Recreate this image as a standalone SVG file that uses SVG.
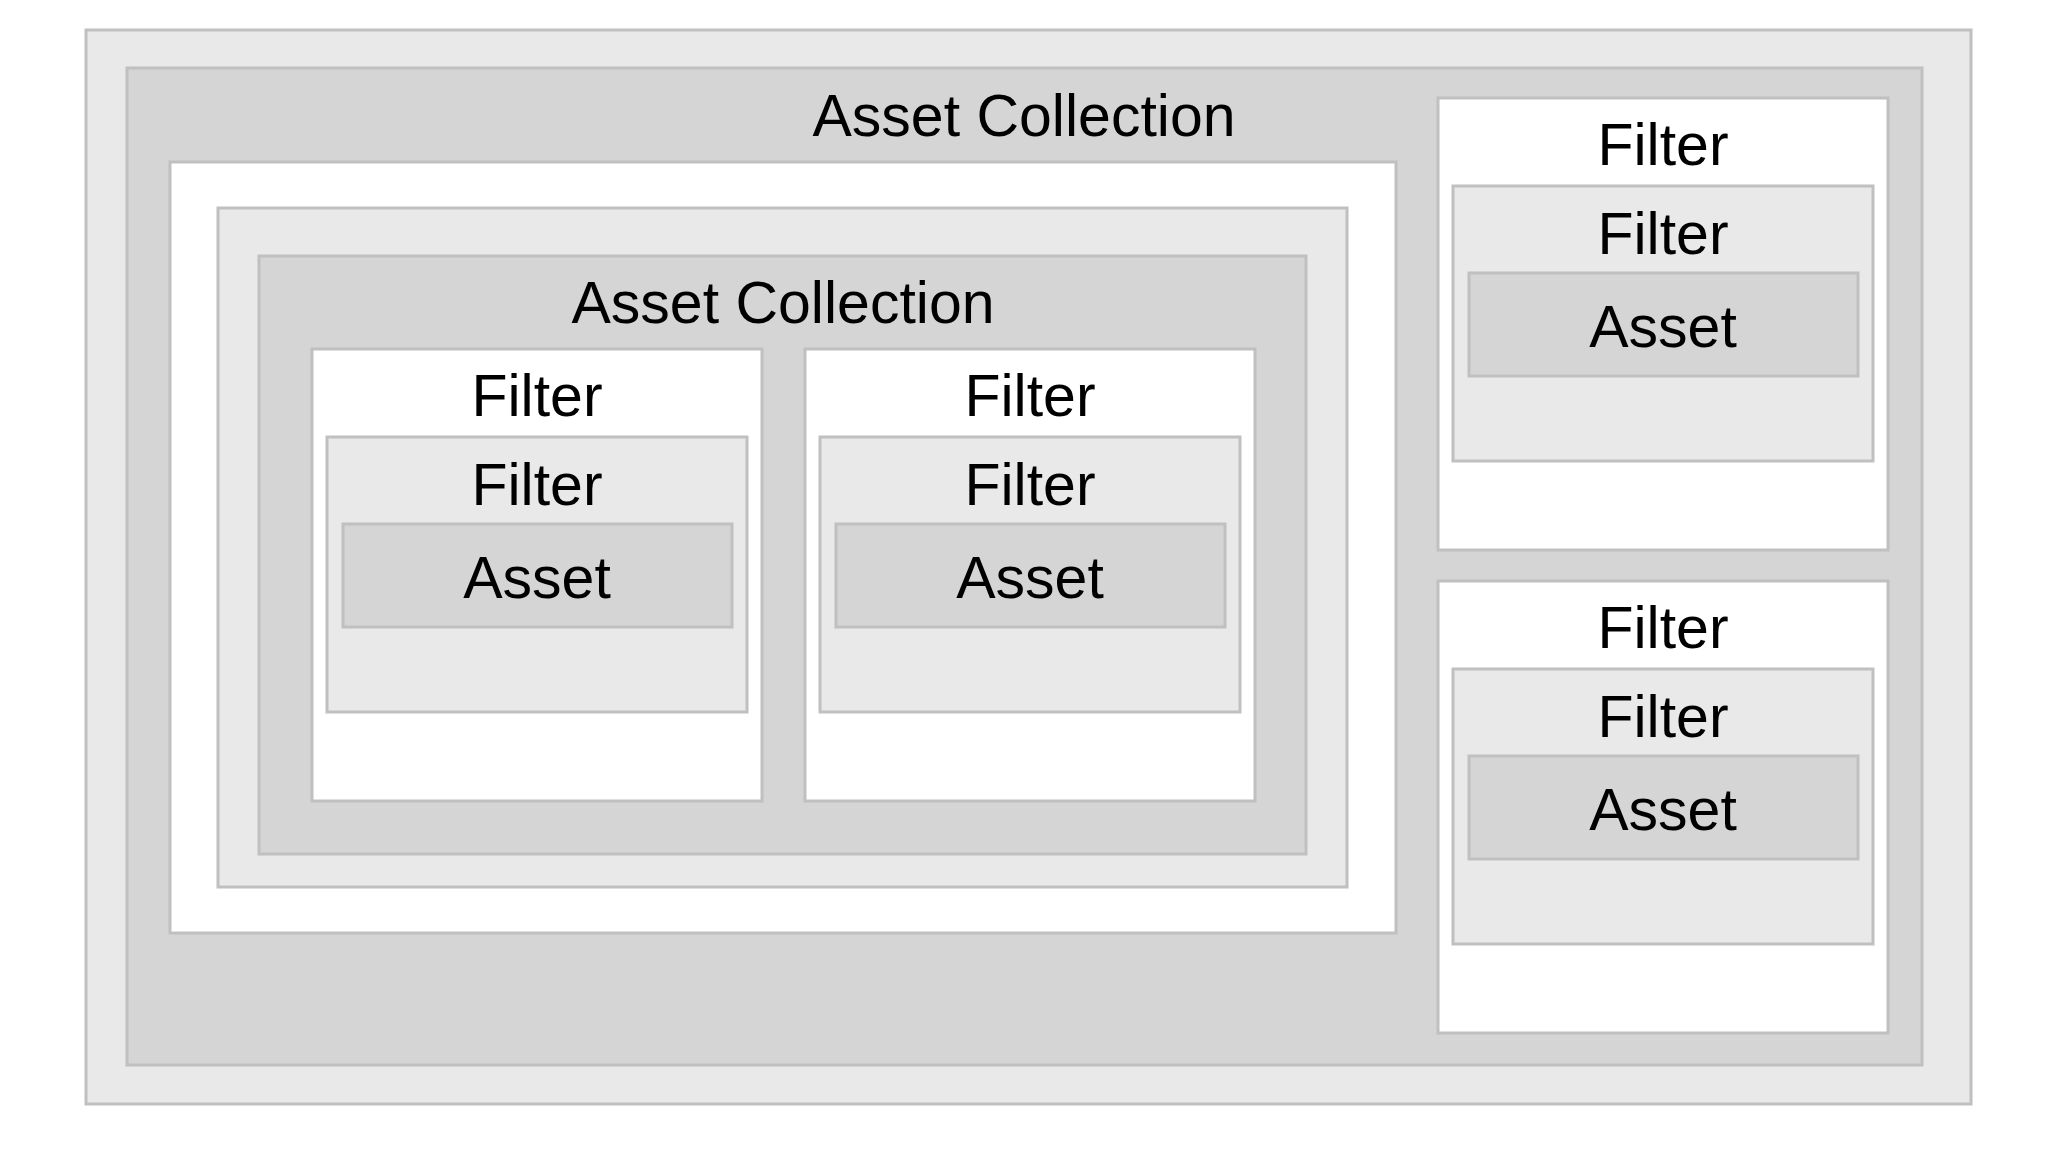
<svg xmlns="http://www.w3.org/2000/svg" width="2048" height="1152" viewBox="0 0 2048 1152">
<style>
.box{stroke:#c0c0c0;stroke-width:3}
.l{fill:#e9e9e9}
.d{fill:#d5d5d5}
.w{fill:#ffffff}
text{font-family:"Liberation Sans",Arial,sans-serif;font-size:59px;fill:#000;text-anchor:middle}
</style>
<rect width="2048" height="1152" fill="#fff"/>
<g id="outer-frame"><rect class="box l" x="86" y="30" width="1885" height="1074"/></g>
<g id="asset-collection-outer">
<rect class="box d" x="127" y="68" width="1795" height="997"/>
<text x="1024" y="136">Asset Collection</text>
</g>
<g id="white-container"><rect class="box w" x="170" y="162" width="1226" height="771"/></g>
<g id="light-container"><rect class="box l" x="218" y="208" width="1129" height="679"/></g>
<g id="asset-collection-inner">
<rect class="box d" x="259" y="256" width="1047" height="598"/>
<text x="783" y="323">Asset Collection</text>
</g>
<g id="filter-1" transform="translate(312,349)">
<rect class="box w" x="0" y="0" width="450" height="452"/>
<text x="225" y="67">Filter</text>
<rect class="box l" x="15" y="88" width="420" height="275"/>
<text x="225" y="156">Filter</text>
<rect class="box d" x="31" y="175" width="389" height="103"/>
<text x="225" y="249">Asset</text>
</g>
<g id="filter-2" transform="translate(805,349)">
<rect class="box w" x="0" y="0" width="450" height="452"/>
<text x="225" y="67">Filter</text>
<rect class="box l" x="15" y="88" width="420" height="275"/>
<text x="225" y="156">Filter</text>
<rect class="box d" x="31" y="175" width="389" height="103"/>
<text x="225" y="249">Asset</text>
</g>
<g id="filter-3" transform="translate(1438,98)">
<rect class="box w" x="0" y="0" width="450" height="452"/>
<text x="225" y="67">Filter</text>
<rect class="box l" x="15" y="88" width="420" height="275"/>
<text x="225" y="156">Filter</text>
<rect class="box d" x="31" y="175" width="389" height="103"/>
<text x="225" y="249">Asset</text>
</g>
<g id="filter-4" transform="translate(1438,581)">
<rect class="box w" x="0" y="0" width="450" height="452"/>
<text x="225" y="67">Filter</text>
<rect class="box l" x="15" y="88" width="420" height="275"/>
<text x="225" y="156">Filter</text>
<rect class="box d" x="31" y="175" width="389" height="103"/>
<text x="225" y="249">Asset</text>
</g>
<g id="connectors"></g>
</svg>
